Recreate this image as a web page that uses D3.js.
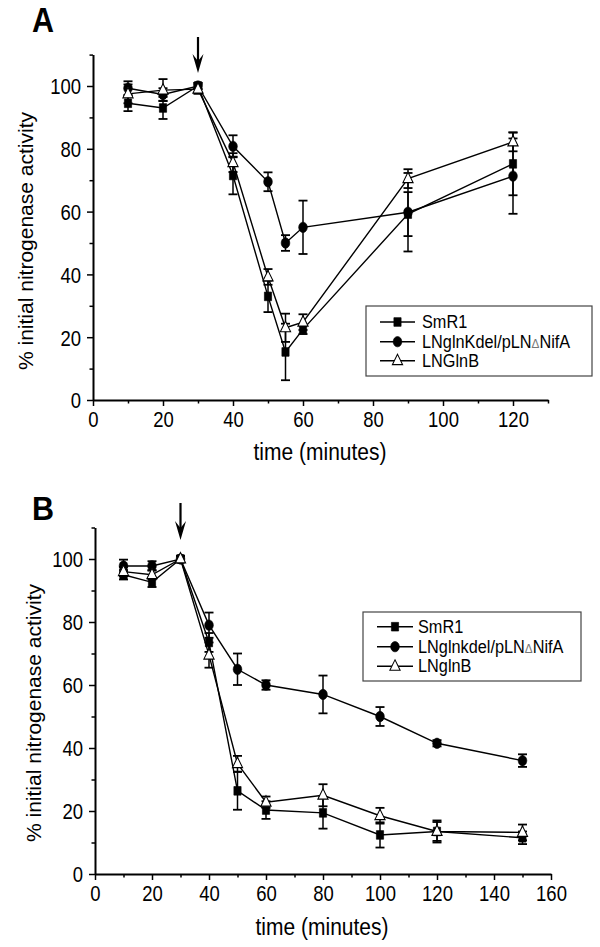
<!DOCTYPE html>
<html><head><meta charset="utf-8">
<script src="https://cdn.jsdelivr.net/npm/d3@7"></script>
<style>body{margin:0;background:#fff}svg{display:block;font-family:"Liberation Sans",Arial,sans-serif}</style>
</head><body><svg id="c" width="600" height="947"></svg>
<script>
// ---------- data ----------
const seriesNames = ["SmR1", "LNglnKdel/pLN\u0394NifA", "LNGlnB"];
const seriesNamesB = ["SmR1", "LNglnkdel/pLN\u0394NifA", "LNglnB"];
const timeA = [10, 20, 30, 40, 50, 55, 60, 90, 120];
const smr1A = [94.5, 93, 100, 71.5, 33, 15.3, 22.5, 59.2, 75.2];
const smr1AErr = [2.5, 3.5, 1, 6, 5, 9, 1.5, 7, 10];
const glnKA = [99.3, 97.3, 100, 80.8, 69.5, 50, 55, 59.8, 71.3];
const glnKAErr = [2.2, 2, 1, 3.5, 3, 2.5, 8.5, 12.5, 12];
const glnBA = [97.5, 98.7, 99, 75.6, 39.2, 23, 24.8, 70.5, 82.2];
const glnBAErr = [3, 3.5, 1.5, 3, 2.5, 4.5, 2.5, 3, 3];

const timeB = [10, 20, 30, 40, 50, 60, 80, 100, 120, 150];
const smr1B = [95, 92.6, 100, 73.5, 26.4, 20.3, 19.4, 12.4, 13.5, 11.5];
const smr1BErr = [1.5, 1.5, 1, 3, 6, 2.8, 5, 4, 3, 2];
const glnKB = [97.8, 97.8, 100, 79, 65, 60, 57, 50, 41.5, 36];
const glnKBErr = [2, 1.5, 1, 4, 5, 1.5, 6, 3, 1, 2];
const glnBB = [96, 95, 100, 69.5, 35, 22.8, 25, 18.5, 13.5, 13.2];
const glnBBErr = [1.5, 1.5, 1, 4, 2.5, 1.8, 3.5, 2.5, 3.5, 2.5];

const yMajorTicks = [0, 20, 40, 60, 80, 100];
const yMinorTicks = [10, 30, 50, 70, 90, 110];
const xMajorTicksA = [0, 20, 40, 60, 80, 100, 120];
const xMinorTicksA = [10, 30, 50, 70, 90, 110, 130];
const xMajorTicksB = [0, 20, 40, 60, 80, 100, 120, 140, 160];
const xMinorTicksB = [10, 30, 50, 70, 90, 110, 130, 150];
const yTitle = "% initial nitrogenase activity";
const xTitle = "time (minutes)";
const arrowTime = 30;

// ---------- drawing ----------
const svg = d3.select("#c");
const K = 1.2; // vertical glyph stretch seen in the reference

function markerPath(type) {
  if (type === "square") return "M-3.6,-3.6H3.6V3.6H-3.6Z";
  if (type === "circle") return "M-4.3,0A4.3,4.3 0 1,0 4.3,0A4.3,4.3 0 1,0 -4.3,0Z";
  return "M0,-5.4L5.1,3.3L-5.1,3.3Z";
}
function drawMarker(g, type, x, y) {
  g.append("path").attr("d", markerPath(type))
    .attr("transform", `translate(${x},${y}) scale(1,${K})`)
    .attr("fill", type === "triangle" ? "#fff" : "#000")
    .attr("stroke", "#000").attr("stroke-width", type === "triangle" ? 1 : 0.6);
}

function panel(cfg) {
  const g = svg.append("g");
  const x = d3.scaleLinear().domain(cfg.xDomain).range(cfg.xRange);
  const y = d3.scaleLinear().domain([0, 110]).range(cfg.yRange);

  // axes
  const xAxis = g.append("g").attr("transform", `translate(0,${cfg.yRange[0]})`)
    .call(d3.axisBottom(x).tickValues(cfg.xMajor).tickSize(6).tickSizeOuter(0).tickFormat(d3.format("d")));
  g.append("g").attr("transform", `translate(0,${cfg.yRange[0]})`)
    .call(d3.axisBottom(x).tickValues(cfg.xMinor).tickSize(3.5).tickFormat(""))
    .call(s => s.select(".domain").remove());
  const yAxis = g.append("g").attr("transform", `translate(${cfg.xRange[0]},0)`)
    .call(d3.axisLeft(y).tickValues(yMajorTicks).tickSize(6).tickSizeOuter(0).tickFormat(d3.format("d")));
  g.append("g").attr("transform", `translate(${cfg.xRange[0]},0)`)
    .call(d3.axisLeft(y).tickValues(yMinorTicks).tickSize(3.5).tickFormat(""))
    .call(s => s.select(".domain").remove());
  g.selectAll(".domain").attr("stroke-width", 2).attr("stroke", "#000");
  g.selectAll(".tick line").attr("stroke-width", 1.5).attr("stroke", "#000");
  xAxis.selectAll(".tick text").attr("y", null).attr("dy", null)
    .attr("font-size", 18.5).attr("fill", "#000")
    .attr("transform", `translate(0,27) scale(1,1.18)`);
  yAxis.selectAll(".tick text").attr("x", null).attr("dy", null)
    .attr("font-size", 18.5).attr("fill", "#000")
    .attr("transform", `translate(-12,7.8) scale(1,1.18)`);
  g.selectAll(".tick text").attr("font-family", '"Liberation Sans",Arial,sans-serif');

  // titles
  g.append("text").attr("transform", `translate(${cfg.xTitlePos[0]},${cfg.xTitlePos[1]}) scale(1,1.1)`)
    .attr("text-anchor", "middle").attr("font-size", 21).text(xTitle);
  g.append("text").attr("transform", `translate(${cfg.yTitlePos[0]},${cfg.yTitlePos[1]}) rotate(-90)`)
    .attr("text-anchor", "middle").attr("font-size", 21).text(yTitle);
  g.append("text").attr("transform", `translate(${cfg.letterPos[0]},${cfg.letterPos[1]}) scale(1,${cfg.letterK})`)
    .attr("font-size", 30.5).attr("font-weight", "bold").text(cfg.letter);

  // arrow
  const ax = x(arrowTime);
  g.append("line").attr("x1", ax).attr("x2", ax).attr("y1", cfg.arrow[0]).attr("y2", cfg.arrow[1] - 8)
    .attr("stroke", "#000").attr("stroke-width", 2.2);
  const t = cfg.arrow[1];
  g.append("path").attr("d", `M${ax - 5.5},${t - 19}L${ax},${t}L${ax + 5.5},${t - 19}L${ax},${t - 12}Z`).attr("fill", "#000");

  // series
  const line = d3.line().x(d => x(d[0])).y(d => y(d[1]));
  cfg.series.forEach(s => {
    const pts = cfg.time.map((t, i) => [t, s.vals[i], s.err[i]]);
    g.append("path").attr("d", line(pts)).attr("fill", "none").attr("stroke", "#000").attr("stroke-width", 1.4);
  });
  cfg.series.forEach(s => {
    cfg.time.forEach((t, i) => {
      const cx = x(t), lo = y(s.vals[i] - s.err[i]), hi = y(s.vals[i] + s.err[i]);
      g.append("line").attr("x1", cx).attr("x2", cx).attr("y1", lo).attr("y2", hi).attr("stroke", "#000").attr("stroke-width", 1.5);
      [lo, hi].forEach(yy => g.append("line").attr("x1", cx - 4.5).attr("x2", cx + 4.5).attr("y1", yy).attr("y2", yy)
        .attr("stroke", "#000").attr("stroke-width", 1.8));
    });
  });
  cfg.series.forEach(s => {
    cfg.time.forEach((t, i) => drawMarker(g, s.type, x(t), y(s.vals[i])));
  });

  // legend
  const L = cfg.legend;
  g.append("rect").attr("x", L.box[0]).attr("y", L.box[1]).attr("width", L.box[2]).attr("height", L.box[3])
    .attr("fill", "#fff").attr("stroke", "#444").attr("stroke-width", 1.2);
  cfg.series.forEach((s, i) => {
    const by = L.base[i], my = by - 6;
    g.append("line").attr("x1", L.line[0]).attr("x2", L.line[1]).attr("y1", my).attr("y2", my)
      .attr("stroke", "#000").attr("stroke-width", 1.4);
    drawMarker(g, s.type, (L.line[0] + L.line[1]) / 2, my);
    const txt = g.append("text").attr("transform", `translate(${L.textX},${by}) scale(1,1.08)`)
      .attr("font-size", L.fs);
    const parts = s.name.split("\u0394");
    txt.append("tspan").text(parts[0]);
    if (parts.length > 1) {
      txt.append("tspan").attr("font-size", L.fs * 0.72).attr("fill", "#777").text("\u0394");
      txt.append("tspan").text(parts[1]);
    }
  });
}

panel({
  letter: "A", letterPos: [32, 32], letterK: 1.15,
  xDomain: [0, 130], xRange: [93, 548], yRange: [400, 54.6],
  xMajor: xMajorTicksA, xMinor: xMinorTicksA,
  xTitlePos: [320, 460], yTitlePos: [33, 241],
  arrow: [37, 73],
  time: timeA,
  series: [
    {name: seriesNames[0], type: "square", vals: smr1A, err: smr1AErr},
    {name: seriesNames[1], type: "circle", vals: glnKA, err: glnKAErr},
    {name: seriesNames[2], type: "triangle", vals: glnBA, err: glnBAErr}
  ],
  legend: {box: [366, 306, 226, 70], base: [328, 347.7, 366.7], line: [380, 415], textX: 422, fs: 16.3}
});

panel({
  letter: "B", letterPos: [32, 520], letterK: 1.07,
  xDomain: [0, 160], xRange: [95, 551], yRange: [874, 527.5],
  xMajor: xMajorTicksB, xMinor: xMinorTicksB,
  xTitlePos: [322, 935], yTitlePos: [41, 713],
  arrow: [503, 540],
  time: timeB,
  series: [
    {name: seriesNamesB[0], type: "square", vals: smr1B, err: smr1BErr},
    {name: seriesNamesB[1], type: "circle", vals: glnKB, err: glnKBErr},
    {name: seriesNamesB[2], type: "triangle", vals: glnBB, err: glnBBErr}
  ],
  legend: {box: [363, 612, 218, 69], base: [632.7, 652.7, 672.3], line: [377, 413], textX: 418, fs: 16.3}
});
</script></body></html>
